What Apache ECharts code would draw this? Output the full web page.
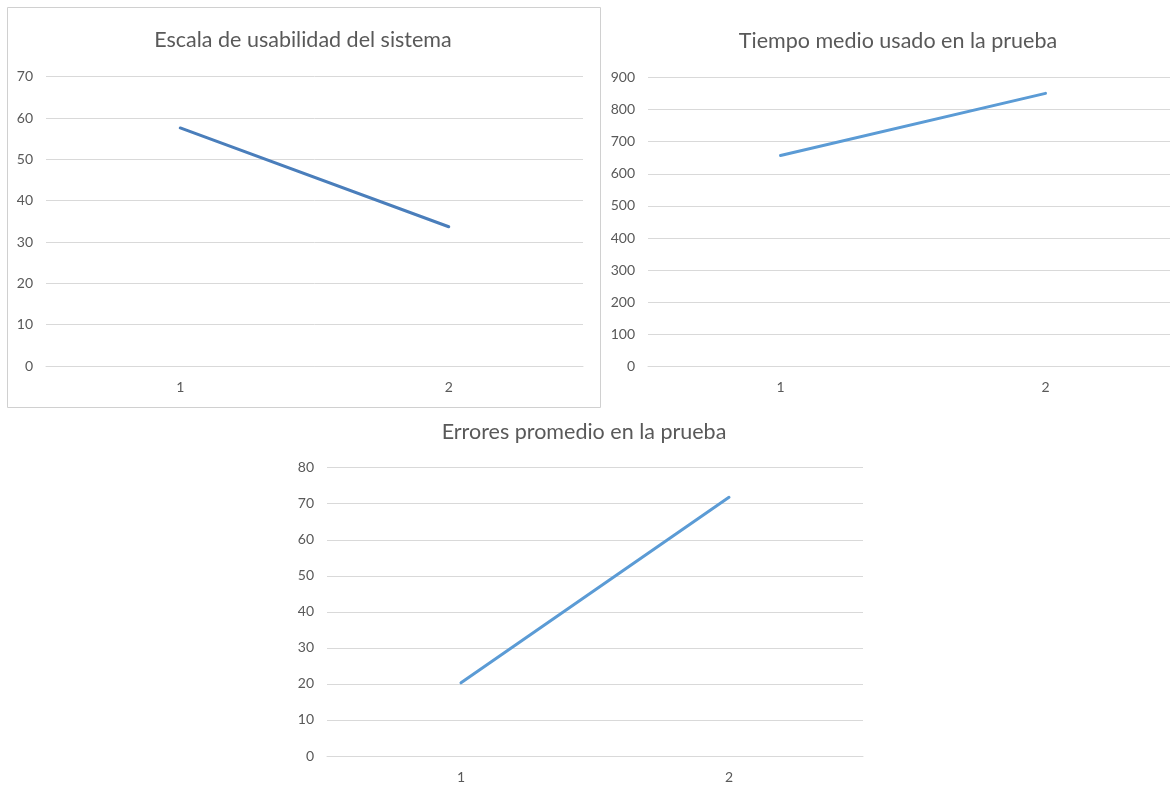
<!DOCTYPE html>
<html>
<head>
<meta charset="utf-8">
<script src="https://cdn.jsdelivr.net/npm/echarts@6/dist/echarts.min.js"></script>
<style>
  html, body { margin: 0; padding: 0; background: #ffffff; overflow: hidden; }
  /* the right-hand plot runs a little past the page edge, so the canvas is wider than the view */
  #chart { width: 1180px; height: 786px; }
</style>
</head>
<body>
<div id="chart"></div>
<script>
// Categories (test rounds)
const rounds = ['1', '2'];

// System usability scale
const usabilityScores = [57.6, 33.7];
// Mean time used in the test
const meanTimes = [657, 850];
// Mean errors in the test
const meanErrors = [20.3, 71.8];

const titles = [
  'Escala de usabilidad del sistema',
  'Tiempo medio usado en la prueba',
  'Errores promedio en la prueba'
];

const FONT = 'Lato, "Noto Sans", sans-serif';
const TEXT = '#595959';
const GRID = '#d9d9d9';

function xAxisFor(idx) {
  return {
    type: 'category',
    gridIndex: idx,
    data: rounds,
    boundaryGap: true,
    axisLine: { show: true, lineStyle: { color: GRID, width: 1 } },
    axisTick: { show: false },
    axisLabel: { color: TEXT, fontFamily: FONT, fontSize: 14, margin: 14 }
  };
}

function yAxisFor(idx, max, interval) {
  return {
    type: 'value',
    gridIndex: idx,
    min: 0,
    max: max,
    interval: interval,
    axisLine: { show: false },
    axisTick: { show: false },
    splitLine: { lineStyle: { color: GRID, width: 1 } },
    axisLabel: { color: TEXT, fontFamily: FONT, fontSize: 14, margin: 13 }
  };
}

function lineSeries(idx, data, color) {
  return {
    type: 'line',
    xAxisIndex: idx,
    yAxisIndex: idx,
    data: data,
    symbol: 'none',
    lineStyle: { color: color, width: 3, cap: 'round' },
    silent: true,
    animation: false
  };
}

function titleAt(text, cx, top) {
  return {
    text: text, left: cx, top: top, textAlign: 'center',
    padding: 0,
    textStyle: { color: TEXT, fontFamily: FONT, fontSize: 21.5, fontWeight: 'normal', lineHeight: 22 }
  };
}

const chart = echarts.init(document.getElementById('chart'), null, { renderer: 'canvas' });

chart.setOption({
  backgroundColor: '#ffffff',
  animation: false,
  title: [
    titleAt(titles[0], 303, 29),
    titleAt(titles[1], 898, 30),
    titleAt(titles[2], 584, 421)
  ],
  graphic: [
    { type: 'rect', shape: { x: 7.5, y: 7.5, width: 593, height: 400 },
      style: { fill: 'none', stroke: '#d0d0d0', lineWidth: 1 }, silent: true, z: -1 }
  ],
  grid: [
    { left: 46, top: 76.7, width: 537, height: 289.3 },
    { left: 648, top: 77.3, width: 530, height: 289.4 },
    { left: 327, top: 467.7, width: 536, height: 288.3 }
  ],
  xAxis: [xAxisFor(0), xAxisFor(1), xAxisFor(2)],
  yAxis: [yAxisFor(0, 70, 10), yAxisFor(1, 900, 100), yAxisFor(2, 80, 10)],
  series: [
    lineSeries(0, usabilityScores, '#4a7ebb'),
    lineSeries(1, meanTimes, '#5b9bd5'),
    lineSeries(2, meanErrors, '#5b9bd5')
  ]
});
</script>
</body>
</html>
